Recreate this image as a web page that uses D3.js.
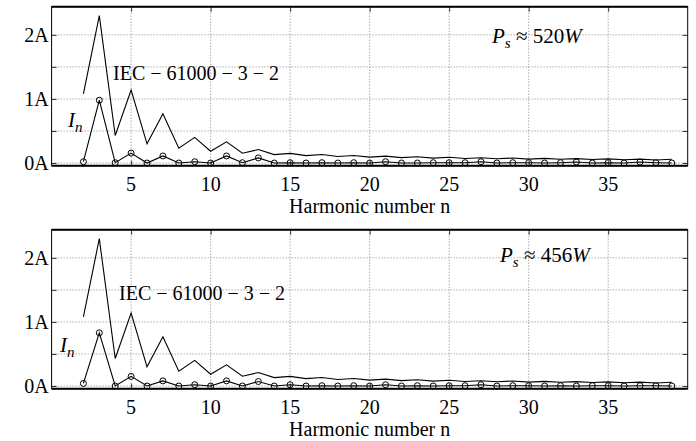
<!DOCTYPE html>
<html>
<head>
<meta charset="utf-8">
<script src="https://cdn.jsdelivr.net/npm/d3@7"></script>
<style>
  body { margin: 0; background: #fff; }
  svg { display: block; font-family: "Liberation Serif", "Times New Roman", serif; }
  .grid line { stroke: #666; stroke-width: 0.8; stroke-dasharray: 1 2; }
</style>
</head>
<body>
<svg id="chart" width="696" height="441"></svg>
<script>
// harmonic orders shown in both panels
const harmonics = d3.range(2, 40);

// IEC 61000-3-2 class A limits (A), n = 2..39
const iecLimit = [1.08, 2.30, 0.43, 1.14, 0.30, 0.77, 0.23, 0.40, 0.184, 0.33,
  0.153, 0.21, 0.131, 0.15, 0.115, 0.132, 0.102, 0.118, 0.092, 0.107,
  0.084, 0.098, 0.077, 0.09, 0.071, 0.083, 0.066, 0.078, 0.061, 0.073,
  0.058, 0.068, 0.054, 0.064, 0.051, 0.061, 0.048, 0.058];

// measured harmonic currents (A), n = 2..39
const currentP520 = [0.02, 0.98, 0.005, 0.155, 0.0, 0.11, 0.0, 0.02, 0.0, 0.11,
  0.005, 0.08, 0.0, 0.005, 0.0, 0.005, 0.0, 0.005, 0.0, 0.02,
  0.0, 0.0, 0.005, 0.005, 0.005, 0.02, 0.0, 0.005, 0.005, 0.0,
  0.005, 0.015, 0.0, 0.005, 0.0, 0.015, 0.005, 0.0];
const currentP456 = [0.04, 0.83, 0.0, 0.15, 0.0, 0.08, 0.0, 0.02, 0.0, 0.08,
  0.0, 0.07, 0.0, 0.02, 0.0, 0.005, 0.0, 0.005, 0.0, 0.02,
  0.0, 0.005, 0.0, 0.005, 0.005, 0.02, 0.0, 0.005, 0.005, 0.0,
  0.005, 0.0, 0.005, 0.005, 0.0, 0.005, 0.005, 0.0];

const xTicks = [5, 10, 15, 20, 25, 30, 35];
const yTicks = [0, 1, 2];
const yGrid = [0, 0.5, 1, 1.5, 2];
const yTickLabels = ['0A', '1A', '2A'];
const powerLabels = ['520', '456'];

const svg = d3.select('#chart');
const left = 51.6, right = 687.7, plotH = 159;
const panelTops = [6.7, 229.7];

const x = d3.scaleLinear().domain([0, 40]).range([left, right]);

function drawPanel (top, current, power, txt) {
  const y = d3.scaleLinear().domain([-0.042, 2.44]).range([top + plotH, top]);
  const g = svg.append('g');

  // dotted grid
  const grid = g.append('g').attr('class', 'grid');
  grid.selectAll('.gx').data(xTicks).join('line')
    .attr('x1', d => x(d)).attr('x2', d => x(d))
    .attr('y1', top).attr('y2', top + plotH);
  grid.selectAll('.gy').data(yGrid).join('line')
    .attr('x1', left).attr('x2', right)
    .attr('y1', d => y(d)).attr('y2', d => y(d));

  // inward ticks on all four sides, matlab style
  const axB = d3.axisTop(x).tickValues(xTicks).tickSize(5).tickFormat('');
  const axT = d3.axisBottom(x).tickValues(xTicks).tickSize(5).tickFormat('');
  const axL = d3.axisRight(y).tickValues(yGrid).tickSize(5).tickFormat('');
  const axR = d3.axisLeft(y).tickValues(yGrid).tickSize(5).tickFormat('');
  [[axB, `translate(0,${top + plotH})`], [axT, `translate(0,${top})`],
    [axL, `translate(${left},0)`], [axR, `translate(${right},0)`]].forEach(([ax, tr]) => {
    const a = g.append('g').attr('transform', tr).call(ax);
    a.select('.domain').remove();
    a.selectAll('line').attr('stroke', '#000').attr('stroke-width', 0.8);
  });

  // frame
  g.append('rect').attr('x', left).attr('y', top)
    .attr('width', right - left).attr('height', plotH)
    .attr('fill', 'none').attr('stroke', '#000').attr('stroke-width', 1);
  [top, top + plotH].forEach(yy => g.append('line')
    .attr('x1', left).attr('x2', right).attr('y1', yy).attr('y2', yy)
    .attr('stroke', '#000').attr('stroke-width', 2));

  // tick labels
  g.selectAll('.xl').data(xTicks).join('text')
    .attr('x', d => x(d)).attr('y', top + plotH + 25)
    .attr('text-anchor', 'middle').attr('font-size', 20).text(d => d);
  g.selectAll('.yl').data(yTicks).join('text')
    .attr('x', left - 3).attr('y', d => y(d) + 7)
    .attr('text-anchor', 'end').attr('font-size', 20).text((d, i) => yTickLabels[i]);
  g.append('text').attr('x', x(20)).attr('y', top + plotH + 47)
    .attr('text-anchor', 'middle').attr('font-size', 20).text('Harmonic number n');

  // series
  const line = d3.line().x((d, i) => x(harmonics[i])).y(d => y(d));
  g.append('path').datum(iecLimit).attr('d', line)
    .attr('fill', 'none').attr('stroke', '#000').attr('stroke-width', 1.1);
  g.append('path').datum(current).attr('d', line)
    .attr('fill', 'none').attr('stroke', '#000').attr('stroke-width', 1.1);
  g.selectAll('.pt').data(current).join('circle')
    .attr('cx', (d, i) => x(harmonics[i])).attr('cy', d => y(d)).attr('r', 3)
    .attr('fill', 'none').attr('stroke', '#000').attr('stroke-width', 1);

  // annotations
  g.append('text').attr('x', txt.iec[0]).attr('y', top + txt.iec[1])
    .attr('font-size', 20).text('IEC \u2212 61000 \u2212 3 \u2212 2');
  const inLab = g.append('text').attr('x', txt.in[0]).attr('y', top + txt.in[1])
    .attr('font-size', 21).attr('font-style', 'italic');
  inLab.append('tspan').text('I');
  inLab.append('tspan').attr('dy', 5).attr('font-size', 15).text('n');
  const ps = g.append('text').attr('x', txt.ps[0]).attr('y', top + txt.ps[1])
    .attr('font-size', 21);
  ps.append('tspan').attr('font-style', 'italic').text('P');
  ps.append('tspan').attr('dy', 5).attr('font-size', 15).attr('font-style', 'italic').text('s');
  ps.append('tspan').attr('dy', -5).text(' \u2248 ' + power);
  ps.append('tspan').attr('font-style', 'italic').text('W');
}

drawPanel(panelTops[0], currentP520, powerLabels[0], { iec: [113, 73], in: [68, 120], ps: [492, 36] });
drawPanel(panelTops[1], currentP456, powerLabels[1], { iec: [119, 70], in: [60, 122], ps: [500, 32] });
</script>
</body>
</html>
